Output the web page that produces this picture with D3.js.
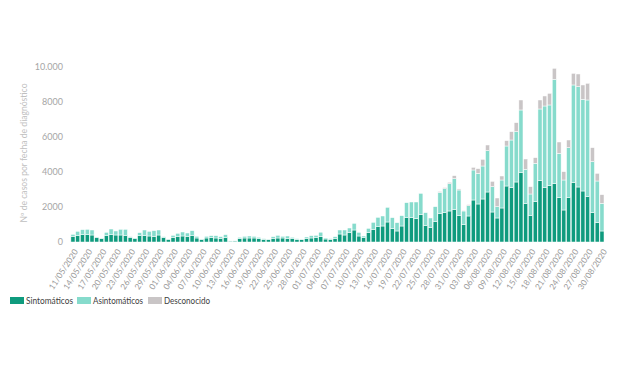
<!DOCTYPE html>
<html><head><meta charset="utf-8">
<script src="https://cdn.jsdelivr.net/npm/d3@7"></script>
<style>
body{margin:0;background:#fff}
svg{display:block}
text{font-family:Lato,"Open Sans",sans-serif}
</style></head>
<body><svg id="c" width="620" height="368"></svg>
<script>
const dates = [
"11/05/2020","12/05/2020","13/05/2020","14/05/2020","15/05/2020","16/05/2020","17/05/2020","18/05/2020","19/05/2020","20/05/2020",
"21/05/2020","22/05/2020","23/05/2020","24/05/2020","25/05/2020","26/05/2020","27/05/2020","28/05/2020","29/05/2020","30/05/2020","31/05/2020",
"01/06/2020","02/06/2020","03/06/2020","04/06/2020","05/06/2020","06/06/2020","07/06/2020","08/06/2020","09/06/2020","10/06/2020",
"11/06/2020","12/06/2020","13/06/2020","14/06/2020","15/06/2020","16/06/2020","17/06/2020","18/06/2020","19/06/2020","20/06/2020",
"21/06/2020","22/06/2020","23/06/2020","24/06/2020","25/06/2020","26/06/2020","27/06/2020","28/06/2020","29/06/2020","30/06/2020",
"01/07/2020","02/07/2020","03/07/2020","04/07/2020","05/07/2020","06/07/2020","07/07/2020","08/07/2020","09/07/2020","10/07/2020",
"11/07/2020","12/07/2020","13/07/2020","14/07/2020","15/07/2020","16/07/2020","17/07/2020","18/07/2020","19/07/2020","20/07/2020",
"21/07/2020","22/07/2020","23/07/2020","24/07/2020","25/07/2020","26/07/2020","27/07/2020","28/07/2020","29/07/2020","30/07/2020","31/07/2020",
"01/08/2020","02/08/2020","03/08/2020","04/08/2020","05/08/2020","06/08/2020","07/08/2020","08/08/2020","09/08/2020","10/08/2020",
"11/08/2020","12/08/2020","13/08/2020","14/08/2020","15/08/2020","16/08/2020","17/08/2020","18/08/2020","19/08/2020","20/08/2020",
"21/08/2020","22/08/2020","23/08/2020","24/08/2020","25/08/2020","26/08/2020","27/08/2020","28/08/2020","29/08/2020","30/08/2020"
];

const sintomaticos = [
324,362,419,419,400,248,190,362,419,400,400,381,267,190,362,362,343,324,400,248,152,267,324,343,324,381,229,
140,229,248,229,210,267,50,55,190,229,229,229,190,152,133,210,229,229,210,190,152,133,210,229,248,300,171,150,210,
457,400,533,686,343,248,552,724,876,914,1143,762,629,914,1391,1391,1334,1581,933,819,1162,1619,1676,1772,1848,1505,
991,1486,2400,2172,2457,2857,1714,1372,1943,3200,3105,3429,3962,2191,1524,2305,3505,3105,3219,3334,2534,1829,2553,3391,3143,2915,2591,1676,1105,629
];

const asintomaticos = [
114,248,286,305,286,37,20,190,324,229,324,343,38,39,171,324,267,324,286,57,19,114,171,229,190,267,95,
25,95,114,133,95,152,10,10,77,95,114,95,77,38,19,95,152,95,133,77,38,19,76,133,133,260,58,40,95,
229,286,267,381,209,95,229,400,534,572,838,629,476,591,857,895,952,1200,743,553,857,1219,1372,1562,1771,1467,
781,590,1715,1752,1886,2363,1448,647,1600,2286,2724,2877,3582,1962,1219,2191,4096,4667,4611,5962,2533,1714,2838,5582,5734,5238,5524,2915,2381,1581
];

const desconocido = [
0,0,0,0,0,0,0,0,0,0,0,0,0,0,0,0,0,0,0,0,0,0,0,0,0,0,0,
0,0,0,0,0,0,0,0,0,0,0,0,0,0,0,0,0,0,0,0,0,0,0,0,0,0,0,0,0,
0,0,0,0,0,0,0,0,0,0,0,0,0,0,0,0,0,0,0,0,0,50,60,80,172,60,
40,60,152,267,381,323,305,496,229,305,477,514,571,590,419,324,514,572,666,629,648,477,438,666,724,820,953,800,438,495
];

const tickLabels = dates.filter((d,i)=>i%3===0);
const yTicks = [0,2000,4000,6000,8000,10000];
const yTickLabels = ["0","2000","4000","6000","8000","10.000"];
const seriesNames = ["Sintomáticos","Asintomáticos","Desconocido"];
const colors = ["#0f9b7e","#86dbcc","#c9c5c6"];

const svg = d3.select("#c");
const x = d3.scaleBand().domain(dates).range([70.9,604]).paddingInner(0.14).paddingOuter(0);
const y = d3.scaleLinear().domain([0,10000]).range([242,67]);

const rows = dates.map((d,i)=>({date:d, s:sintomaticos[i], a:asintomaticos[i], u:desconocido[i]}));
const stacked = d3.stack().keys(["s","a","u"])(rows);

svg.append("g").selectAll("g").data(stacked).join("g")
  .attr("fill",(d,i)=>colors[i])
  .selectAll("rect").data(d=>d).join("rect")
  .attr("x",d=>x(d.data.date))
  .attr("width",x.bandwidth())
  .attr("y",d=>y(d[1]))
  .attr("height",d=>Math.max(0,y(d[0])-y(d[1])))
  .attr("stroke","#fff").attr("stroke-width",0.5);

// Y axis
const ya = svg.append("g").attr("transform","translate(66,0)")
  .call(d3.axisLeft(y).tickValues(yTicks).tickFormat((d,i)=>yTickLabels[i]).tickSize(0).tickPadding(3));
ya.select(".domain").remove();
ya.selectAll("text").attr("fill","#a6a6a6").style("font-size","9px");

// Y title
svg.append("text")
  .attr("transform","translate(27,153) rotate(-90)")
  .attr("text-anchor","middle")
  .attr("fill","#bfbfbf").style("font-size","8.6px")
  .text("Nº de casos por fecha de diagnóstico");

// X axis
const xa = svg.append("g").attr("transform","translate(0,242)")
  .call(d3.axisBottom(x).tickValues(tickLabels).tickSize(0));
xa.select(".domain").remove();
xa.selectAll("text")
  .attr("text-anchor","end").attr("x",0).attr("y",0).attr("dy","0.35em")
  .attr("transform","translate(3,8) rotate(-57)")
  .attr("fill","#999").style("font-size","8.3px");

// Legend
const lg = svg.append("g").attr("transform","translate(10,297)");
const lx = [0,67,138];
const lw = [47,50,46];
seriesNames.forEach((n,i)=>{
  lg.append("rect").attr("x",lx[i]).attr("y",0).attr("width",14).attr("height",7).attr("fill",colors[i]);
  lg.append("text").attr("x",lx[i]+16).attr("y",3.5).attr("dy","0.35em")
    .attr("textLength",lw[i]).attr("lengthAdjust","spacingAndGlyphs")
    .attr("fill","#404040").style("font-size","10px").text(n);
});
</script></body></html>
